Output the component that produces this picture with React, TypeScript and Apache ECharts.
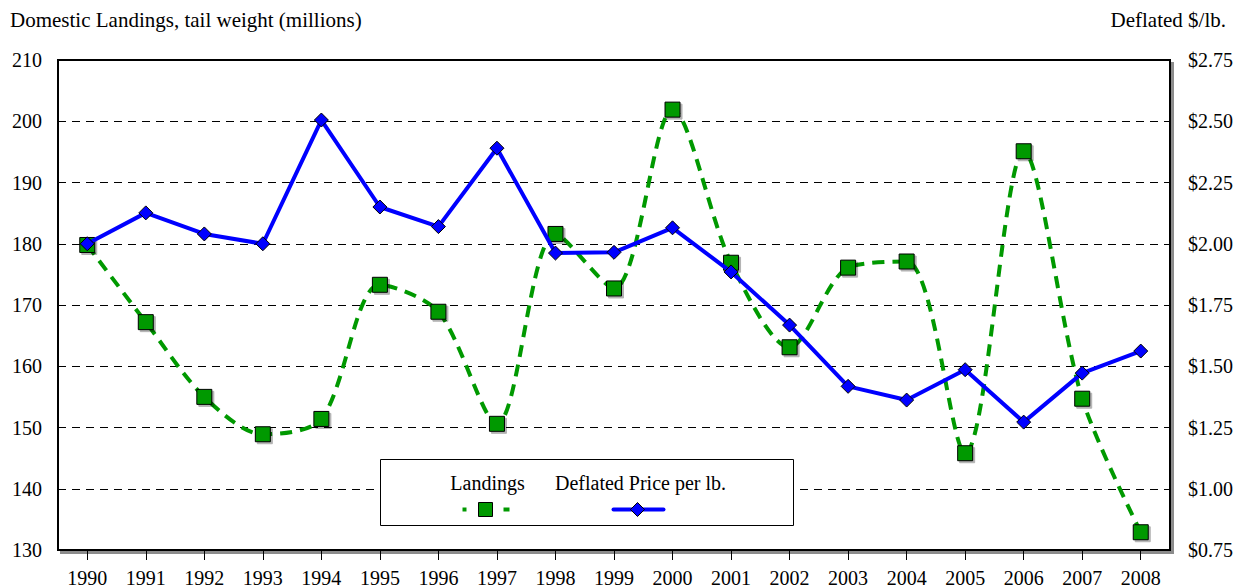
import React, { useEffect, useRef } from "react";
import * as echarts from "echarts";

const years = ["1990","1991","1992","1993","1994","1995","1996","1997","1998","1999","2000","2001","2002","2003","2004","2005","2006","2007","2008"];
const landings = [179.8,167.2,155.0,148.9,151.4,173.3,168.9,150.6,181.6,172.7,201.9,176.9,163.1,176.1,177.1,145.8,195.1,154.7,132.9];
const price = [2.00,2.126,2.04,2.00,2.505,2.15,2.07,2.39,1.962,1.965,2.065,1.885,1.668,1.418,1.362,1.486,1.272,1.472,1.562];
const leftTitle = "Domestic Landings, tail weight (millions)";
const rightTitle = "Deflated $/lb.";
const landingsName = "Landings";
const priceName = "Deflated Price per lb.";

const FONT = "'Liberation Serif', 'Times New Roman', serif";

export default function App() {
  const ref = useRef<HTMLDivElement>(null);
  useEffect(() => {
    const chart = echarts.init(ref.current!, null, { renderer: "svg" });
    chart.setOption({
      animation: false,
      backgroundColor: "#fff",
      textStyle: { fontFamily: FONT },
      grid: {
        left: 58, right: 68, top: 60, bottom: 38,
        show: true, borderColor: "#000", borderWidth: 2,
        shadowColor: "rgba(0,0,0,0.45)", shadowOffsetX: 3, shadowOffsetY: 3, shadowBlur: 0,
        backgroundColor: "#fff",
      },
      xAxis: {
        type: "category",
        data: years,
        boundaryGap: true,
        axisLine: { show: true, lineStyle: { color: "#000", width: 2 } },
        axisTick: { show: true, alignWithLabel: true, length: 10, lineStyle: { color: "#000", width: 1 } },
        axisLabel: { color: "#000", fontSize: 20, fontFamily: FONT, margin: 18 },
        splitLine: { show: false },
      },
      yAxis: [
        {
          type: "value", min: 130, max: 210, interval: 10,
          axisLine: { show: false }, axisTick: { show: false },
          axisLabel: { color: "#000", fontSize: 20, fontFamily: FONT, margin: 16 },
          splitLine: { show: true, lineStyle: { color: "#000", type: [8, 6], width: 1 } },
        },
        {
          type: "value", min: 0.75, max: 2.75, interval: 0.25,
          axisLine: { show: false }, axisTick: { show: false },
          axisLabel: { color: "#000", fontSize: 20, fontFamily: FONT, margin: 18, formatter: (v: number) => "$" + v.toFixed(2) },
          splitLine: { show: false },
        },
      ],
      graphic: [
        { type: "text", left: 10, top: 9, style: { text: leftTitle, font: `21px ${FONT}`, fill: "#000" } },
        { type: "text", right: 12, top: 9, style: { text: rightTitle, font: `21px ${FONT}`, fill: "#000" } },
        {
          type: "group", left: 380, top: 459, z: 100,
          children: [
            { type: "rect", z: 100, shape: { x: 0, y: 0, width: 413, height: 66 }, style: { fill: "#fff", stroke: "#000", lineWidth: 1 } },
            { type: "text", z: 101, x: 107, y: 23, style: { text: landingsName, font: `20px ${FONT}`, fill: "#000", align: "center", verticalAlign: "middle" } },
            { type: "text", z: 101, x: 260, y: 23, style: { text: priceName, font: `20px ${FONT}`, fill: "#000", align: "center", verticalAlign: "middle" } },
            { type: "rect", z: 101, shape: { x: 82, y: 48, width: 4, height: 4 }, style: { fill: "#009900" } },
            { type: "rect", z: 101, shape: { x: 123, y: 48, width: 6, height: 4 }, style: { fill: "#009900" } },
            { type: "rect", z: 101, shape: { x: 98, y: 43, width: 14, height: 14 }, style: { fill: "#009900", stroke: "#000", lineWidth: 1 } },
            { type: "line", z: 101, shape: { x1: 233, y1: 50, x2: 283, y2: 50 }, style: { stroke: "#0000ff", lineWidth: 4, lineCap: "round" } },
            { type: "polygon", z: 102, shape: { points: [[257, 43], [264, 50], [257, 57], [250, 50]] }, style: { fill: "#0000ff", stroke: "#000", lineWidth: 1 } },
          ],
        },
      ],
      series: [
        {
          name: landingsName,
          type: "line",
          yAxisIndex: 0,
          data: landings,
          smooth: 0.3,
          symbol: "rect",
          symbolSize: 15,
          lineStyle: { color: "#009900", width: 4, type: [12, 8] },
          itemStyle: { color: "#009900", borderColor: "#000", borderWidth: 1, shadowColor: "rgba(0,0,0,0.3)", shadowOffsetX: 2, shadowOffsetY: 2 },
          z: 3,
        },
        {
          name: priceName,
          type: "line",
          yAxisIndex: 1,
          data: price,
          symbol: "diamond",
          symbolSize: 14,
          lineStyle: { color: "#0000ff", width: 4 },
          itemStyle: { color: "#0000ff", borderColor: "#000", borderWidth: 1 },
          z: 4,
        },
      ],
    });
    return () => chart.dispose();
  }, []);
  return <div ref={ref} style={{ width: 1238, height: 588, position: "absolute", left: 0, top: 0 }} />;
}
